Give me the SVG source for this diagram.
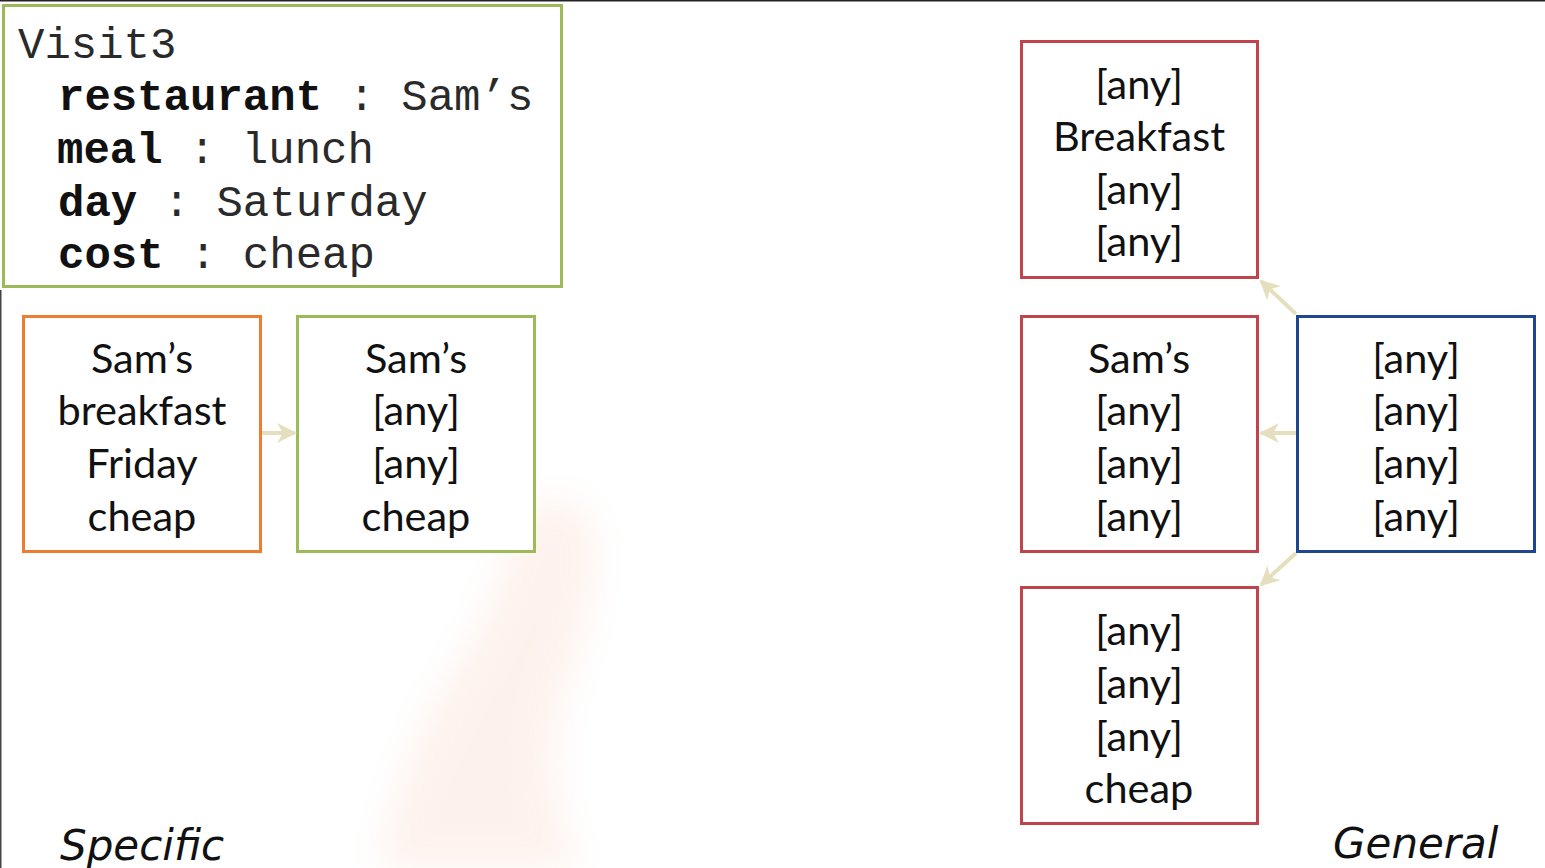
<svg xmlns="http://www.w3.org/2000/svg" width="1545" height="868" viewBox="0 0 1545 868">
<style>
.box{fill:#fff;stroke-width:3}
.g{stroke:#9bbb59}
.o{stroke:#ed7d31}
.r{stroke:#c0444c}
.b{stroke:#1f4690}
.mono{font-family:"Liberation Mono","Courier New",monospace;font-size:44px;fill:#2a2a2a}
.bold{font-weight:bold;fill:#111}
.lbl{font-family:Lato,"Open Sans",sans-serif;font-size:41.5px;fill:#111;text-anchor:middle}
.hand{font-family:"DejaVu Sans",sans-serif;font-style:italic;font-size:42px;fill:#111}
.conn{stroke:#e6dfbd;stroke-width:4;fill:none;marker-end:url(#ah)}
</style>
<defs>
<marker id="ah" viewBox="0 0 10 10" refX="9" refY="5" markerWidth="5" markerHeight="5" orient="auto" markerUnits="strokeWidth">
<path d="M0,0 L10,5 L0,10 L3,5 z" fill="#e6dfbd"/>
</marker>
<filter id="blur" x="-50%" y="-50%" width="200%" height="200%"><feGaussianBlur stdDeviation="18"/></filter>
</defs>
<rect x="0" y="0" width="1545" height="868" fill="#fff"/>
<line x1="0" y1="0.5" x2="1545" y2="0.5" stroke="#222" stroke-width="2"/>
<line x1="0.5" y1="290" x2="0.5" y2="868" stroke="#444" stroke-width="2"/>
<g id="hand-shadow" opacity="0.1" filter="url(#blur)">
<path d="M520,520 Q560,480 590,520 Q600,600 560,700 Q540,800 580,868 L380,868 Q400,760 450,680 Q500,600 520,520 z" fill="#f08050"/>
</g>
<g id="visit3">
<rect class="box g" x="3.5" y="5.5" width="558" height="281"/>
<text class="mono" x="18" y="58">Visit3</text>
<text class="mono" x="58" y="110"><tspan class="bold">restaurant</tspan> : Sam’s</text>
<text class="mono" x="57" y="163"><tspan class="bold">meal</tspan> : lunch</text>
<text class="mono" x="58" y="216"><tspan class="bold">day</tspan> : Saturday</text>
<text class="mono" x="58" y="268"><tspan class="bold">cost</tspan> : cheap</text>
</g>
<g id="specific-1">
<rect class="box o" x="23.5" y="316.5" width="237" height="235"/>
<text class="lbl" x="142" y="373">Sam’s</text>
<text class="lbl" x="142" y="425">breakfast</text>
<text class="lbl" x="142" y="478">Friday</text>
<text class="lbl" x="142" y="531">cheap</text>
</g>
<g id="specific-2">
<rect class="box g" x="297.5" y="316.5" width="237" height="235"/>
<text class="lbl" x="416" y="373">Sam’s</text>
<text class="lbl" x="416" y="425">[any]</text>
<text class="lbl" x="416" y="478">[any]</text>
<text class="lbl" x="416" y="531">cheap</text>
</g>
<g id="general-top">
<rect class="box r" x="1021.5" y="41.5" width="236" height="236"/>
<text class="lbl" x="1139" y="99">[any]</text>
<text class="lbl" x="1139" y="151">Breakfast</text>
<text class="lbl" x="1139" y="204">[any]</text>
<text class="lbl" x="1139" y="256">[any]</text>
</g>
<g id="general-mid">
<rect class="box r" x="1021.5" y="316.5" width="236" height="235"/>
<text class="lbl" x="1139" y="373">Sam’s</text>
<text class="lbl" x="1139" y="425">[any]</text>
<text class="lbl" x="1139" y="478">[any]</text>
<text class="lbl" x="1139" y="531">[any]</text>
</g>
<g id="general-bottom">
<rect class="box r" x="1021.5" y="587.5" width="236" height="236"/>
<text class="lbl" x="1139" y="645">[any]</text>
<text class="lbl" x="1139" y="698">[any]</text>
<text class="lbl" x="1139" y="751">[any]</text>
<text class="lbl" x="1139" y="803">cheap</text>
</g>
<g id="most-general">
<rect class="box b" x="1297.5" y="316.5" width="237" height="235"/>
<text class="lbl" x="1416" y="373">[any]</text>
<text class="lbl" x="1416" y="425">[any]</text>
<text class="lbl" x="1416" y="478">[any]</text>
<text class="lbl" x="1416" y="531">[any]</text>
</g>
<g id="connectors">
<line class="conn" x1="262" y1="433" x2="295" y2="433"/>
<line class="conn" x1="1296" y1="314" x2="1261" y2="281"/>
<line class="conn" x1="1296" y1="433" x2="1261" y2="433"/>
<line class="conn" x1="1296" y1="553" x2="1261" y2="585"/>
</g>
<g id="labels">
<text class="hand" x="60" y="860">Specific</text>
<text class="hand" x="1333" y="858">General</text>
</g>
</svg>
